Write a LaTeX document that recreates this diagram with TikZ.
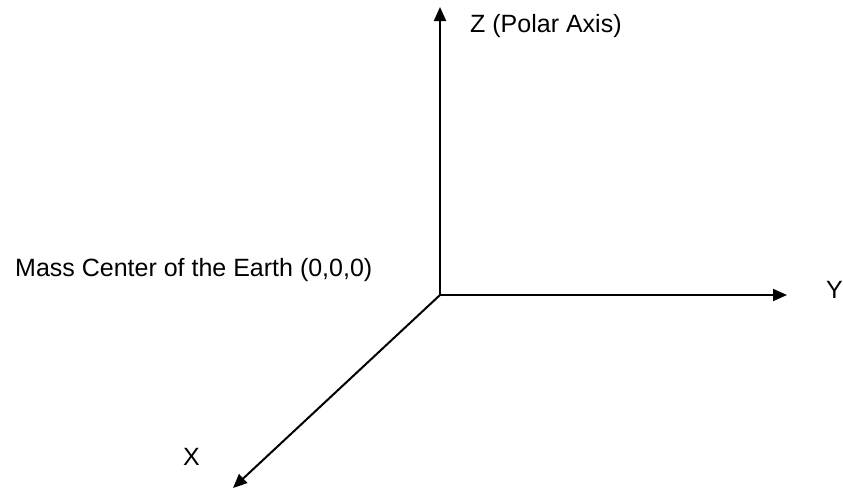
\documentclass[tikz,border=0pt]{standalone}
\usepackage{fontspec}
\setmainfont{Liberation Sans}
\usetikzlibrary{arrows.meta}
\begin{document}
\begin{tikzpicture}[x=1pt,y=-1pt,
  axis/.style={line width=2pt,-{Triangle[length=14pt,width=12pt]}},
  lbl/.style={inner sep=0pt,anchor=base west,font=\fontsize{25}{30}\selectfont}]
\useasboundingbox (0,0) rectangle (843,490);
\coordinate (O) at (440,295);
\coordinate (ztip) at (440,7);
\coordinate (ytip) at (787,295);
\coordinate (xtip) at (233,488);
\draw[axis] (O) -- (ztip);
\draw[axis] (O) -- (ytip);
\draw[axis] (O) -- (xtip);
\node[lbl] (zl) at (470,32) {Z (Polar Axis)};
\node[lbl] (yl) at (826,298) {Y};
\node[lbl] (xl) at (183,465) {X};
\node[lbl] (ml) at (15,276) {Mass Center of the Earth (0,0,0)};
\end{tikzpicture}
\end{document}
